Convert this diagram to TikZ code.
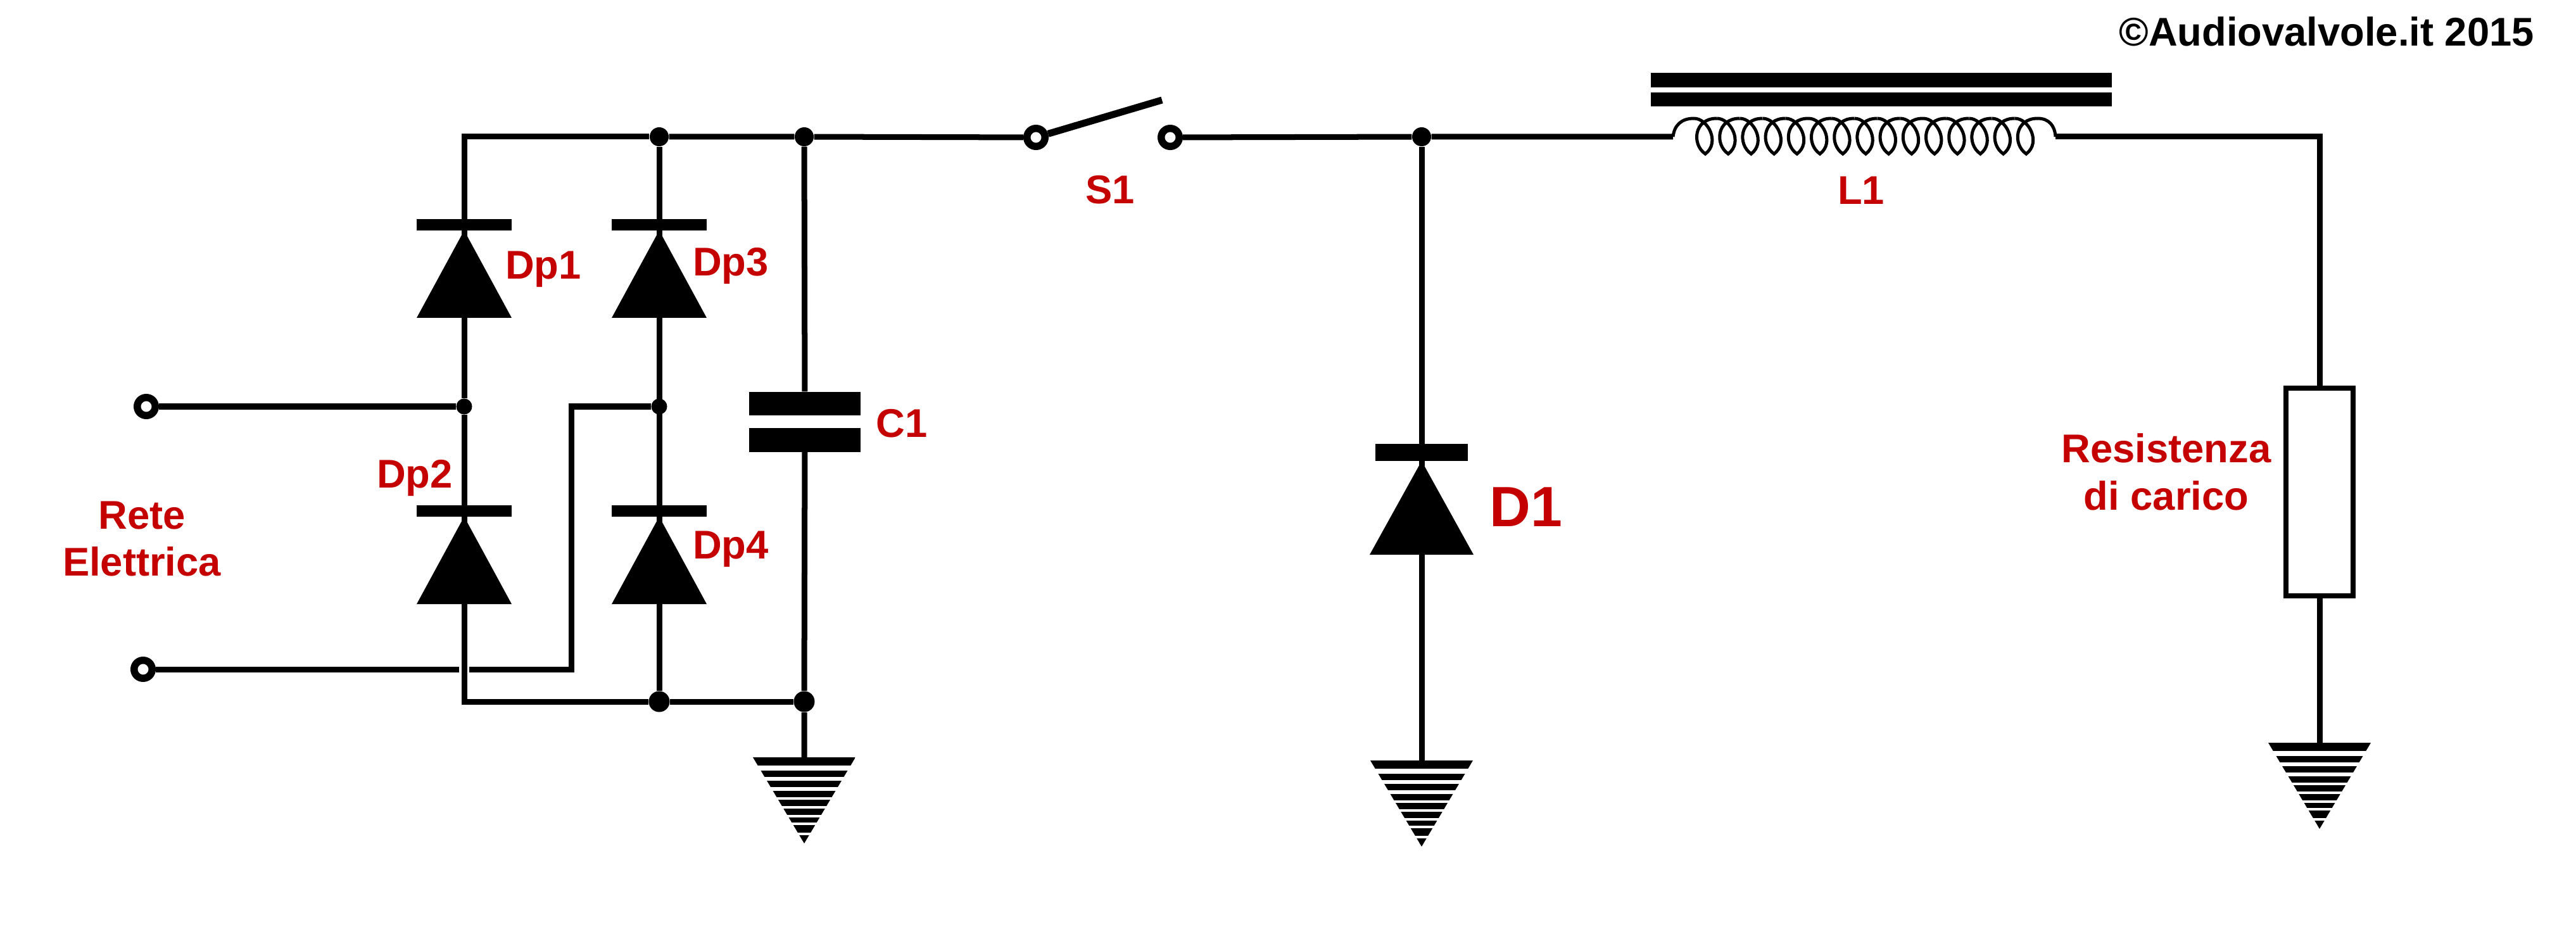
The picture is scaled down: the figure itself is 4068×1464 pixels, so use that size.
\documentclass[tikz,border=0pt]{standalone}
\usepackage{fontspec}
\setmainfont{Liberation Sans}
\definecolor{lblred}{RGB}{197,0,0}
\tikzset{
  wire/.style={line width=0.09cm},
  dot/.style={circle,fill=black,inner sep=0pt,minimum size=#1},
  term/.style={circle,draw=black,fill=white,line width=0.115cm,inner sep=0pt,minimum size=0.285cm},
  plate/.style={rectangle,fill=black,inner sep=0pt,minimum width=1.76cm,minimum height=0.37cm},
  lbl/.style={text=lblred,font=\bfseries\fontsize{18}{18}\selectfont,anchor=base,inner sep=0pt},
}
\newcommand\DrawDiode[6]{% x, top, bar half width, bar height, triangle half width, triangle height
  \fill (#1-#3,#2) rectangle (#1+#3,#2+#4);
  \fill (#1,#2+#4) -- (#1+#5,#2+#4+#6) -- (#1-#5,#2+#4+#6) -- cycle;
}
\newcommand\DrawGround[1]{
  \begin{scope}[shift={(#1)}]
    \clip (-81,0) -- (81,0) -- (0,136) -- cycle;
    \foreach \a/\b in {0/13,21/31,37/47,53/63,67/77,81/91,95/103,107/119,123/136}
      { \fill (-81,\a) rectangle (81,\b); }
  \end{scope}
}
\begin{document}
\begin{tikzpicture}[x=0.01cm,y=-0.01cm] % one unit is one pixel of the drawing

\useasboundingbox (0,0) rectangle (4068,1464);

% junctions and terminals
\node[term] (tA) at (231,642) {};
\node[term] (tB) at (226,1057) {};
\node[term] (tS1) at (1636,217) {};
\node[term] (tS2) at (1848,217) {};
\node[dot=0.3cm] (jTopB) at (1041,216) {};
\node[dot=0.3cm] (jTopC) at (1270,216) {};
\node[dot=0.3cm] (jD) at (2245,216) {};
\node[dot=0.25cm] (jL) at (733,642) {};
\node[dot=0.25cm] (jR) at (1041,642) {};
\node[dot=0.33cm] (jBotB) at (1041,1108) {};
\node[dot=0.33cm] (jBotC) at (1270,1108) {};
\coordinate (gapL) at (725,1057);
\coordinate (gapR) at (741,1057);
\coordinate (bendB) at (902,1057);
\coordinate (coilL) at (2642,216);
\coordinate (coilR) at (3246,216);
\coordinate (bladeEnd) at (1835,158);
\coordinate (gndC) at (1270,1196);
\coordinate (gndD) at (2245,1201);
\coordinate (gndR) at (3663,1173);

% components
\node[plate] (plateA) at (1271,637.5) {};
\node[plate] (plateB) at (1271,695) {};
\node[rectangle,draw=black,line width=0.08cm,inner sep=0pt,minimum width=1.06cm,minimum height=3.28cm]
  (rLoad) at (3663,777) {};

% wires
\draw[wire] (jTopB) -| (jL);
\draw[wire] (jL) |- (jBotB);
\draw[wire] (jTopB) -- (jBotB);
\draw[wire] (jTopB) -- (jTopC) -- (tS1);
\draw[wire] (jBotB) -- (jBotC);
\draw[wire] (jTopC) -- (plateA);
\draw[wire] (plateB) -- (jBotC) -- (gndC);
\draw[wire] (tA) -- (jL);
\draw[wire] (tB) -- (gapL);
\draw[wire] (gapR) -- (bendB) |- (jR);
\draw[wire] (tS2) -- (jD) -- (coilL);
\draw[wire] (jD) -- (gndD);
\draw[wire] (coilR) -| (rLoad.north);
\draw[wire] (rLoad.south) -- (gndR);
\draw[line width=0.11cm] (tS1) -- (bladeEnd);

\foreach \x/\y in {733/346,1041/346,733/798,1041/798}
  { \DrawDiode{\x}{\y}{75}{18}{75}{138} }
\DrawDiode{2245}{701}{73}{27}{82}{148}

\DrawGround{gndC}
\DrawGround{gndD}
\DrawGround{gndR}

% iron core and winding
\fill (2607,115) rectangle (3335,138);
\fill (2607,146) rectangle (3335,168);
\draw[line width=0.05cm] (coilL) .. controls (2644,198) and (2655,187) .. (2675,187);
\foreach \i in {0,...,14} {
  \pgfmathsetmacro\t{2693+36.2*\i}
  \draw[line width=0.05cm] (\t-18,187) .. controls (\t+4,187) and (\t+24,225) .. (\t,243)
    .. controls (\t-22,228) and (\t-18,187) .. (\t+18,187);
}
\draw[line width=0.05cm] (3218,187) .. controls (3235,187) and (3245,198) .. (coilR);

% labels
\node[lbl] (lblDpA) at (858,441) {Dp1};
\node[lbl] (lblDpB) at (655,771) {Dp2};
\node[lbl] (lblDpC) at (1154,436) {Dp3};
\node[lbl] (lblDpD) at (1154,882) {Dp4};
\node[lbl] (lblReteA) at (224,835) {Rete};
\node[lbl] (lblReteB) at (224,909) {Elettrica};
\node[lbl] (lblC) at (1424,691) {C1};
\node[lbl] (lblS) at (1753,322) {S1};
\node[lbl] (lblL) at (2939,323) {L1};
\node[lbl,font=\bfseries\fontsize{25.5}{25.5}\selectfont] (lblD) at (2410,831) {D1};
\node[lbl] (lblResA) at (3421,731) {Resistenza};
\node[lbl] (lblResB) at (3421,805) {di carico};
\node[lbl,text=black] (lblCopy) at (3674,73) {©Audiovalvole.it 2015};
\end{tikzpicture}
\end{document}
